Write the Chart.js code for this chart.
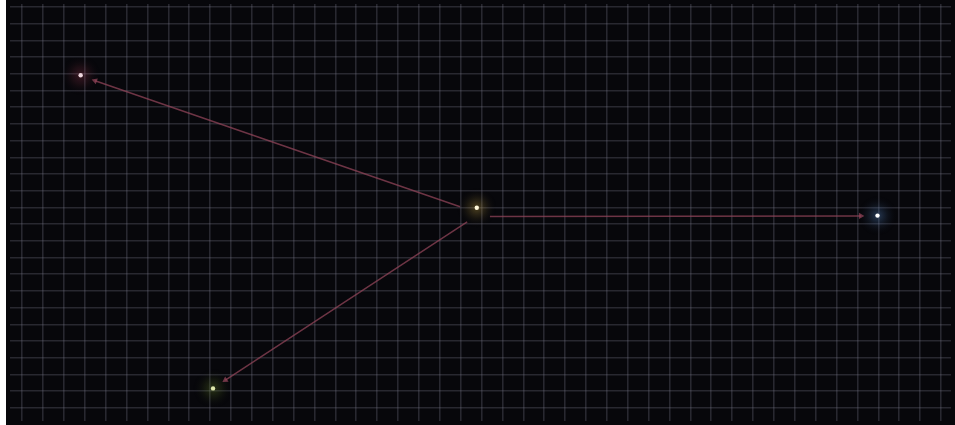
<!DOCTYPE html>
<html>
<head>
<meta charset="utf-8">
<script src="https://cdn.jsdelivr.net/npm/chart.js@4"></script>
<style>
  html, body { margin: 0; padding: 0; background: #07070b; overflow: hidden; }
  #edge { position: absolute; left: 0; top: 0; width: 6px; height: 425px; background: #ffffff; }
  #wrap { position: absolute; left: 6px; top: 0; width: 949px; height: 425px; background: #07070b; }
  canvas { display: block; }
</style>
</head>
<body>
<div id="edge"></div>
<div id="wrap"><canvas id="star-map" width="949" height="425"></canvas></div>
<script>
// data: stars, in grid cells
let starNames = ['west', 'hub', 'east', 'south']
let starX = [2.80, 21.77, 40.96, 9.14]
let starY = [3.09, 11.02, 11.49, 21.83]

// links going out of the hub (start and end, in grid cells)
let linkFromX = [20.97, 21.31, 22.40]
let linkFromY = [10.96, 11.86, 11.54]
let linkToX = [3.49, 9.73, 40.16]
let linkToY = [3.42, 21.33, 11.51]
let linkTarget = ['west', 'south', 'east']

// styles
let starCore = ['#eed6de', '#fff9dc', '#ffffff', '#dfe8ac']
let starGlow = ['rgba(170, 60, 85, 0.30)', 'rgba(205, 170, 70, 0.34)', 'rgba(90, 140, 205, 0.36)', 'rgba(105, 135, 40, 0.34)']
let arrowTurn = [-70.8, 236.5, 90]
let linkColor = 'rgba(150, 70, 92, 0.72)'
let gridColor = 'rgba(130, 130, 148, 0.27)'

// glow behind every star
let glowPlugin = {
    id: 'glow',
    beforeDatasetsDraw(chart) {
        let ctx = chart.ctx
        let meta = chart.getDatasetMeta(0)
        meta.data.forEach(function(pt, i) {
            let g = ctx.createRadialGradient(pt.x, pt.y, 0, pt.x, pt.y, 20)
            g.addColorStop(0, starGlow[i])
            g.addColorStop(0.45, starGlow[i].replace(/[\d.]+\)$/, '0.12)'))
            g.addColorStop(1, 'rgba(0, 0, 0, 0)')
            ctx.save()
            ctx.fillStyle = g
            ctx.beginPath()
            ctx.arc(pt.x, pt.y, 20, 0, Math.PI * 2)
            ctx.fill()
            ctx.restore()
        })
    }
}

let datasets = [{
    label: 'stars',
    data: starX.map(function(x, i) { return {x: x, y: starY[i]} }),
    pointRadius: 2.2,
    pointBorderWidth: 0,
    pointBackgroundColor: starCore,
    showLine: false
}]

linkFromX.forEach(function(x, i) {
    datasets.push({
        label: 'link to ' + linkTarget[i],
        data: [{x: x, y: linkFromY[i]}, {x: linkToX[i], y: linkToY[i]}],
        showLine: true,
        borderColor: linkColor,
        borderWidth: 1.5,
        pointStyle: 'triangle',
        pointRadius: [0, 3.6],
        rotation: [0, arrowTurn[i]],
        pointBackgroundColor: linkColor,
        pointBorderWidth: 0
    })
})

let canvas = document.querySelector('#star-map')
let context = canvas.getContext('2d')

let chart = new Chart(context, {
    type: 'scatter',
    data: { datasets: datasets },
    options: {
        responsive: false,
        animation: false,
        devicePixelRatio: 1,
        layout: { padding: 0 },
        plugins: { legend: { display: false }, tooltip: { enabled: false } },
        scales: {
            x: {
                type: 'linear',
                min: -0.584,
                max: 44.48,
                ticks: { display: false, stepSize: 1, includeBounds: false },
                grid: { color: gridColor, lineWidth: 1.6, drawTicks: false },
                border: { display: false }
            },
            y: {
                type: 'linear',
                reverse: true,
                min: -1.174,
                max: 23.78,
                ticks: { display: false, stepSize: 1, includeBounds: false },
                grid: { color: gridColor, lineWidth: 1.6, drawTicks: false },
                border: { display: false }
            }
        }
    },
    plugins: [glowPlugin]
})
</script>
</body>
</html>
